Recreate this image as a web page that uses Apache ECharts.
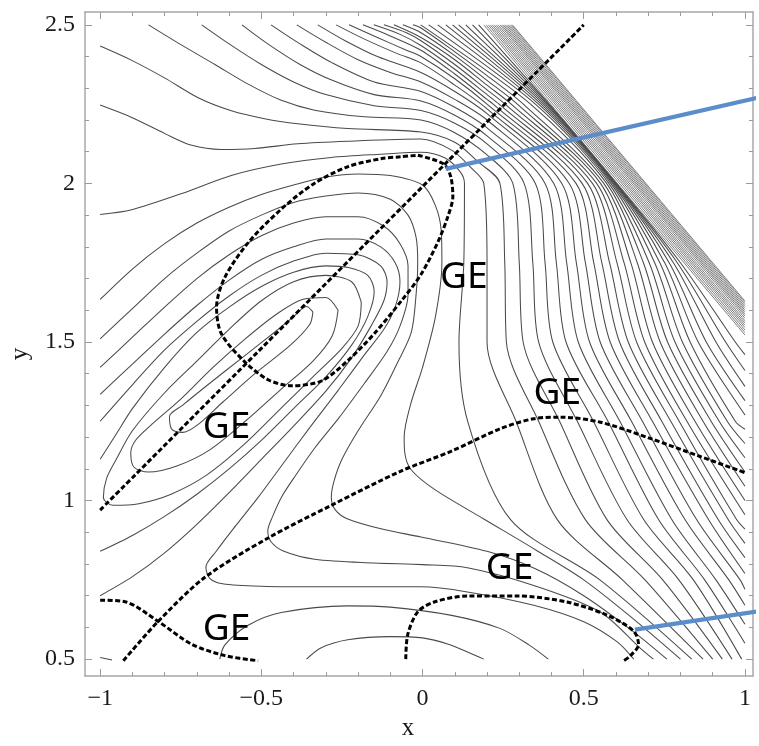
<!DOCTYPE html>
<html>
<head>
<meta charset="utf-8">
<script src="https://cdn.jsdelivr.net/npm/echarts@6/dist/echarts.min.js"></script>
<style>html,body{margin:0;padding:0;background:#fff}#chart{width:759px;height:746px}</style>
</head>
<body>
<div id="chart"></div>
<script>
// ---------- axis ticks / labels ----------
const xTickValues = [-1,-0.9,-0.8,-0.7,-0.6,-0.5,-0.4,-0.3,-0.2,-0.1,0,0.1,0.2,0.3,0.4,0.5,0.6,0.7,0.8,0.9,1];
const xLabelValues = [-1,-0.5,0,0.5,1];
const yTickValues = [0.5,0.6,0.7,0.8,0.9,1,1.1,1.2,1.3,1.4,1.5,1.6,1.7,1.8,1.9,2,2.1,2.2,2.3,2.4,2.5];
const yLabelValues = [0.5,1,1.5,2,2.5];

// ---------- dashed curves ----------
const dashDiagonal = [[-1,0.97],[0.5,2.5]];
const dashEllipse = [[-0.0145,2.089],[0.066,2.061],[0.0875,2.021],[0.094,1.959],[0.079,1.897],[0.047,1.814],[-0.0055,1.712],[-0.067,1.628],[-0.15,1.526],[-0.231,1.442],[-0.314,1.377],[-0.407,1.362],[-0.479,1.381],[-0.553,1.439],[-0.624,1.526],[-0.639,1.609],[-0.614,1.702],[-0.54,1.814],[-0.438,1.919],[-0.336,2.0],[-0.231,2.053],[-0.129,2.078],[-0.067,2.084],[-0.0145,2.089]];
const dashArch = [[-0.928,0.495],[-0.82,0.619],[-0.675,0.758],[-0.479,0.882],[-0.283,0.985],[-0.067,1.093],[0.088,1.155],[0.242,1.227],[0.345,1.258],[0.428,1.263],[0.552,1.247],[0.706,1.196],[0.861,1.139],[1.0,1.088]];
const dashLeft = [[-1,0.686],[-0.923,0.681],[-0.82,0.619],[-0.716,0.547],[-0.613,0.511],[-0.51,0.495]];
const dashLoop = [[-0.052,0.5],[-0.046,0.577],[-0.015,0.649],[0.036,0.68],[0.139,0.699],[0.294,0.699],[0.448,0.68],[0.572,0.639],[0.655,0.588],[0.67,0.546],[0.644,0.51],[0.624,0.495]];

// ---------- blue pointer lines ----------
const pointerUpper = [[0.072,2.046],[1.043,2.271]];
const pointerLower = [[0.659,0.593],[1.043,0.651]];

// ---------- GE labels ----------
const geX = [-0.608, 0.128, 0.418, 0.270, -0.608];
const geY = [1.232, 1.705, 1.337, 0.787, 0.595];

// ---------- contour lines around the left minimum ----------
const loopE1 = [[-0.34,1.595],[-0.35,1.555],[-0.41,1.49],[-0.52,1.40],[-0.62,1.31],[-0.7,1.237],[-0.745,1.215],[-0.778,1.225],[-0.785,1.265],[-0.745,1.3],[-0.66,1.37],[-0.56,1.45],[-0.46,1.53],[-0.4,1.58],[-0.36,1.612],[-0.34,1.595]];
const loopE2 = [[-0.262,1.6],[-0.28,1.52],[-0.34,1.44],[-0.44,1.35],[-0.55,1.25],[-0.66,1.16],[-0.76,1.11],[-0.85,1.09],[-0.895,1.105],[-0.905,1.15],[-0.89,1.19],[-0.84,1.24],[-0.75,1.32],[-0.65,1.42],[-0.55,1.51],[-0.45,1.59],[-0.37,1.635],[-0.3,1.64],[-0.262,1.6]];
const loopE3 = [[-0.19,1.625],[-0.2,1.55],[-0.25,1.48],[-0.33,1.40],[-0.43,1.30],[-0.55,1.18],[-0.67,1.08],[-0.78,1.02],[-0.88,0.99],[-0.96,0.985],[-0.99,1.01],[-0.98,1.07],[-0.95,1.13],[-0.9,1.22],[-0.8,1.34],[-0.7,1.44],[-0.6,1.54],[-0.5,1.63],[-0.4,1.69],[-0.3,1.71],[-0.22,1.69],[-0.19,1.625]];
const openE4 = [[-1,0.84],[-0.9,0.89],[-0.8,0.95],[-0.7,1.02],[-0.6,1.10],[-0.5,1.19],[-0.4,1.29],[-0.3,1.39],[-0.22,1.49],[-0.17,1.58],[-0.15,1.66],[-0.17,1.71],[-0.23,1.735],[-0.3,1.74],[-0.4,1.72],[-0.5,1.675],[-0.6,1.61],[-0.7,1.53],[-0.8,1.42],[-0.9,1.29],[-0.95,1.21],[-1,1.13]];
const openE5 = [[-1,0.70],[-0.9,0.76],[-0.8,0.835],[-0.7,0.925],[-0.6,1.025],[-0.5,1.13],[-0.4,1.235],[-0.3,1.345],[-0.22,1.45],[-0.16,1.55],[-0.12,1.63],[-0.11,1.69],[-0.13,1.74],[-0.2,1.775],[-0.3,1.78],[-0.4,1.755],[-0.5,1.71],[-0.6,1.645],[-0.7,1.565],[-0.8,1.475],[-0.9,1.365],[-1,1.25]];

// ---------- "<" shaped contours (left edge, around, tip, to bottom) ----------
const lineT1 = [[-1,1.335],[-0.9,1.43],[-0.8,1.525],[-0.7,1.615],[-0.6,1.695],[-0.5,1.76],[-0.4,1.80],[-0.3,1.825],[-0.2,1.825],[-0.13,1.8],[-0.085,1.75],[-0.07,1.69],[-0.085,1.61],[-0.12,1.54],[-0.18,1.46],[-0.26,1.35],[-0.35,1.23],[-0.43,1.12],[-0.51,1.01],[-0.58,0.92],[-0.64,0.84],[-0.672,0.79],[-0.66,0.755],[-0.62,0.738],[-0.5,0.73],[-0.3,0.728],[-0.005,0.728],[0.139,0.712],[0.345,0.67],[0.5,0.618],[0.603,0.555],[0.655,0.5]];
const lineT2 = [[-1,1.42],[-0.9,1.515],[-0.8,1.61],[-0.7,1.70],[-0.6,1.775],[-0.5,1.835],[-0.4,1.875],[-0.3,1.895],[-0.2,1.895],[-0.12,1.865],[-0.07,1.81],[-0.045,1.74],[-0.045,1.65],[-0.07,1.55],[-0.11,1.47],[-0.18,1.37],[-0.26,1.26],[-0.335,1.165],[-0.4,1.07],[-0.438,1.01],[-0.465,0.95],[-0.48,0.905],[-0.47,0.87],[-0.43,0.84],[-0.335,0.815],[-0.15,0.803],[0.0,0.798],[0.139,0.788],[0.345,0.732],[0.552,0.648],[0.675,0.535],[0.716,0.5]];
const lineT3 = [[-1,1.51],[-0.9,1.605],[-0.8,1.70],[-0.7,1.78],[-0.6,1.85],[-0.5,1.90],[-0.4,1.94],[-0.3,1.96],[-0.2,1.97],[-0.1,1.95],[-0.045,1.9],[-0.02,1.83],[-0.015,1.75],[-0.02,1.65],[-0.035,1.53],[-0.08,1.43],[-0.13,1.33],[-0.2,1.22],[-0.25,1.13],[-0.275,1.06],[-0.283,1.01],[-0.27,0.97],[-0.232,0.942],[-0.129,0.911],[-0.005,0.885],[0.2,0.84],[0.35,0.785],[0.5,0.70],[0.65,0.59],[0.758,0.5]];
const lineT4 = [[-1,1.634],[-0.9,1.73],[-0.8,1.81],[-0.7,1.875],[-0.6,1.925],[-0.5,1.965],[-0.4,1.995],[-0.3,2.02],[-0.2,2.03],[-0.1,2.025],[0.0,1.995],[0.04,1.93],[0.058,1.85],[0.06,1.75],[0.04,1.58],[0.0,1.42],[-0.036,1.307],[-0.057,1.2],[-0.055,1.15],[-0.036,1.098],[0.036,1.036],[0.19,0.942],[0.35,0.845],[0.5,0.75],[0.65,0.63],[0.8,0.5]];

// ---------- bottom arcs ----------
const lineB1 = [[-0.36,0.5],[-0.314,0.536],[-0.232,0.561],[-0.1,0.571],[0.0,0.567],[0.08,0.547],[0.15,0.518],[0.19,0.5]];
const lineB2 = [[-0.629,0.5],[-0.613,0.545],[-0.541,0.607],[-0.438,0.647],[-0.232,0.668],[-0.1,0.664],[0.09,0.638],[0.24,0.597],[0.33,0.545],[0.39,0.5]];
const lineCorner = [[-1,0.505],[-0.963,0.497]];

// ---------- fan of contours (upper-left -> right / bottom) ----------
const fanHeads = [
  [[-1,1.902],[-0.902,1.917],[-0.747,1.968],[-0.593,2.025],[-0.438,2.061],[-0.283,2.082],[-0.129,2.092],[-0.005,2.098],[0.07,2.08],[0.118,2.035]],
  [[-1,2.247],[-0.902,2.208],[-0.799,2.157],[-0.716,2.12],[-0.624,2.107],[-0.521,2.11],[-0.387,2.125],[-0.232,2.133],[-0.005,2.14],[0.09,2.105],[0.15,2.05]],
  [[-1,2.433],[-0.902,2.388],[-0.799,2.332],[-0.696,2.27],[-0.593,2.229],[-0.49,2.204],[-0.387,2.188],[-0.232,2.173],[-0.005,2.162],[0.1,2.13],[0.17,2.07]],
  [[-0.85,2.5],[-0.747,2.436],[-0.644,2.375],[-0.541,2.313],[-0.438,2.262],[-0.335,2.231],[-0.18,2.21],[-0.005,2.2],[0.1,2.16],[0.2,2.09]],
  [[-0.685,2.5],[-0.6,2.44],[-0.5,2.375],[-0.4,2.32],[-0.3,2.28],[-0.15,2.245],[-0.005,2.23],[0.1,2.19],[0.2,2.125]],
  [[-0.56,2.5],[-0.48,2.44],[-0.38,2.375],[-0.28,2.325],[-0.15,2.28],[-0.005,2.26],[0.1,2.215],[0.2,2.15]],
  [[-0.47,2.5],[-0.38,2.44],[-0.28,2.38],[-0.15,2.32],[-0.005,2.29],[0.1,2.24],[0.2,2.175]],
  [[-0.39,2.5],[-0.3,2.445],[-0.2,2.39],[-0.1,2.35],[-0.005,2.32],[0.1,2.265],[0.2,2.2]],
  [[-0.325,2.5],[-0.24,2.45],[-0.14,2.4],[-0.005,2.35],[0.1,2.29],[0.2,2.22]],
  [[-0.268,2.5],[-0.18,2.455],[-0.08,2.41],[-0.005,2.38],[0.1,2.31],[0.2,2.235]],
  [[-0.228,2.5],[-0.14,2.46],[-0.05,2.42],[-0.005,2.40],[0.1,2.33],[0.2,2.25]],
  [[-0.185,2.5],[-0.1,2.465],[-0.005,2.42],[0.1,2.345],[0.2,2.265]],
  [[-0.151,2.5],[-0.07,2.47],[-0.005,2.435],[0.1,2.36],[0.2,2.28]],
  [[-0.12,2.5],[-0.05,2.475],[-0.005,2.45],[0.1,2.375],[0.2,2.295]],
  [[-0.089,2.5],[-0.005,2.46],[0.1,2.39],[0.2,2.31]],
  [[-0.061,2.5],[-0.005,2.475],[0.1,2.403],[0.2,2.325]],
  [[-0.03,2.5],[-0.005,2.49],[0.1,2.415],[0.2,2.34]]
];
const fanTopX = [-0.006,0.019,0.047,0.072,0.093,0.112,0.134,0.155,0.174,0.19,0.197,0.204,0.21,0.216,0.222,0.228,0.234,0.24,0.245,0.25,0.255,0.26,0.265,0.27,0.275,0.279];
const fanX225 = [null,null,null,null,null,null,null,null,null,null,null,0.219,0.2375,0.256,0.275,0.294,0.3125,0.335,0.35,0.36,0.368,0.375,0.381,0.386,0.39,0.393];
const fanX200 = [0.13,0.19,0.24,0.28,0.315,0.35,0.38,0.407,0.432,0.455,0.476,0.495,0.512,0.527,0.54,0.552,0.562,0.571,0.578,0.584,0.589,0.593,0.596,0.598,0.6,0.602];
const fanX175 = [0.128,0.2,0.255,0.3,0.342,0.38,0.415,0.447,0.477,0.505,0.531,0.556,0.58,0.603,0.625,0.646,0.666,0.685,0.703,0.72,0.736,0.751,0.765,0.778,0.79,0.8];
const fanX150 = [0.113,0.2,0.26,0.312,0.36,0.404,0.445,0.483,0.518,0.551,0.582,0.611,0.638,0.664,0.689,0.713,0.737,0.76,0.783,0.806,0.83,0.855,0.88,0.91,0.94,0.97];
const fanX125 = [0.14,0.29,0.36,0.425,0.48,0.53,0.575,0.612,0.648,0.682,0.713,0.742,0.77,0.796,0.82,0.845,0.87,0.895,0.92,0.945,0.97];
const fanX094 = [0.273,0.418,0.505,0.572,0.634,0.686,0.732,0.773,0.814,0.85,0.887,0.917,0.948,0.974];
const fanX075 = [0.55,0.62,0.69,0.745,0.795,0.84,0.875,0.91,0.95,0.985];
const fanBottomX = [0.835,0.87,0.9,0.93,0.96,0.99];
const fanRightY = [0.55,0.61,0.67,0.72,0.77,0.82,0.865,0.91,0.955,1.0,1.045,1.09,1.135,1.18,1.225,1.27,1.315,1.36,1.41,1.46,
                   1.522,1.53,1.538,1.546,1.553,1.56,1.567,1.575,1.582,1.588,1.594,1.6,1.606,1.612,1.618,1.624,1.629];

// ---------- build fan lines from the level tables ----------
const fanLevels = [2.25, 2.0, 1.75, 1.5, 1.25, 0.94, 0.75];
const fanLevelX = [fanX225, fanX200, fanX175, fanX150, fanX125, fanX094, fanX075];
const fanCount = fanHeads.length + fanTopX.length;
const fanLines = [];
for (let j = 0; j < fanCount; j++) {
  const pts = j < fanHeads.length ? fanHeads[j].map(p => p.slice()) : [[fanTopX[j - fanHeads.length], 2.5]];
  fanLevels.forEach((lv, k) => {
    const v = fanLevelX[k][j];
    if (v !== null && v !== undefined) pts.push([v, lv]);
  });
  if (j < fanBottomX.length) pts.push([fanBottomX[j], 0.5]);
  else pts.push([1, fanRightY[j - fanBottomX.length]]);
  fanLines.push(pts);
}
const bandStart = fanX200.length; // lines beyond the level tables form the dense band

// ---------- chart ----------
const X_MIN = -1.047, X_MAX = 1.025, Y_MIN = 0.4465, Y_MAX = 2.5405;
const frameColor = '#a8a8a8';
const fmt = v => (v < 0 ? '\u2212' + Math.abs(v) : String(v));
const labelFont = {fontFamily: 'Liberation Serif', fontSize: 24, color: '#1a1a1a'};

function xAxisDef(position, major, withLabels) {
  return {
    type: 'value', min: X_MIN, max: X_MAX, position: position,
    axisLine: {show: major, onZero: false, lineStyle: {color: frameColor, width: 1.5}},
    axisTick: {show: true, inside: true, length: major ? 7 : 4, customValues: major ? xLabelValues : xTickValues, lineStyle: {color: '#9a9a9a', width: 1}},
    axisLabel: withLabels ? Object.assign({show: true, customValues: xLabelValues, formatter: fmt, margin: 11}, labelFont) : {show: false},
    splitLine: {show: false}
  };
}
function yAxisDef(position, major, withLabels) {
  return {
    type: 'value', min: Y_MIN, max: Y_MAX, position: position,
    axisLine: {show: major, onZero: false, lineStyle: {color: frameColor, width: 1.5}},
    axisTick: {show: true, inside: true, length: major ? 7 : 4, customValues: major ? yLabelValues : yTickValues, lineStyle: {color: '#9a9a9a', width: 1}},
    axisLabel: withLabels ? Object.assign({show: true, customValues: yLabelValues, formatter: fmt, margin: 10}, labelFont) : {show: false},
    splitLine: {show: false}
  };
}

const xAxes = [xAxisDef('bottom', true, true), xAxisDef('bottom', false, false), xAxisDef('top', true, false), xAxisDef('top', false, false)];
Object.assign(xAxes[0], {name: 'x', nameLocation: 'middle', nameGap: 34, nameTextStyle: {fontFamily: 'Liberation Serif', fontSize: 25, color: '#1a1a1a', padding: [0, 22, 0, 0]}});
const yAxes = [yAxisDef('left', true, true), yAxisDef('left', false, false), yAxisDef('right', true, false), yAxisDef('right', false, false)];
Object.assign(yAxes[0], {name: 'y', nameLocation: 'middle', nameGap: 52, nameTextStyle: {fontFamily: 'Liberation Serif', fontSize: 25, color: '#1a1a1a', padding: [0, 20, 0, 0]}});

function contour(data, light) {
  return {type: 'line', data: data, symbol: 'none', showSymbol: false, smooth: 0.3, silent: true,
          lineStyle: light ? {color: '#6e6e6e', width: 0.9} : {color: '#4a4a4a', width: 1.05}, z: 2};
}
function dashed(data) {
  return {type: 'line', data: data, symbol: 'none', showSymbol: false, smooth: 0.3, silent: true, lineStyle: {color: '#000', width: 3, type: [5, 2.5]}, z: 4};
}
function pointer(data) {
  return {type: 'line', data: data, symbol: 'none', showSymbol: false, silent: true, clip: false, lineStyle: {color: '#5b8dcb', width: 4.2}, z: 5};
}

const series = [];
[loopE1, loopE2, loopE3, openE4, openE5, lineT1, lineT2, lineT3, lineT4, lineB1, lineB2, lineCorner].forEach(d => series.push(contour(d, false)));
fanLines.forEach((d, j) => series.push(contour(d, j >= bandStart)));
[dashDiagonal, dashEllipse, dashArch, dashLeft, dashLoop].forEach(d => series.push(dashed(d)));
series.push(pointer(pointerUpper));
series.push(pointer(pointerLower));
series.push({
  type: 'scatter', data: geX.map((x, i) => [x, geY[i]]), symbol: 'circle', symbolSize: 2, silent: true, clip: false,
  itemStyle: {color: '#ffffff', opacity: 0},
  label: {show: true, position: 'inside', formatter: 'GE', fontFamily: 'Noto Sans', fontSize: 37, fontWeight: 'normal',
          color: '#000000', opacity: 1, textBorderWidth: 0, textShadowBlur: 0},
  z: 6
});

const chart = echarts.init(document.getElementById('chart'), null, {renderer: 'canvas', width: 759, height: 746});
chart.setOption({
  animation: false,
  backgroundColor: '#ffffff',
  grid: {left: 83, right: 6, top: 12, bottom: 57, containLabel: false},
  xAxis: xAxes,
  yAxis: yAxes,
  series: series
});
</script>
</body>
</html>
